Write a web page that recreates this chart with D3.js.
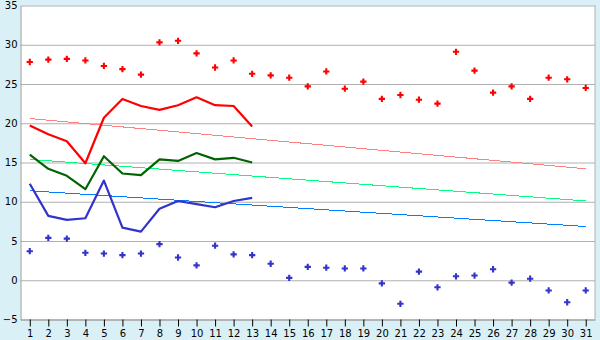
<!DOCTYPE html>
<html>
<head>
<meta charset="utf-8">
<script src="https://cdn.jsdelivr.net/npm/d3@7"></script>
<style>
body { margin: 0; background: #daf0f7; }
svg { display: block; }
.axis text { font-family: "DejaVu Sans", sans-serif; font-size: 10px; fill: #000; }
</style>
</head>
<body>
<svg id="chart"></svg>
<script>
let days = d3.range(1, 32);
let yTicks = [-5, 0, 5, 10, 15, 20, 25, 30, 35];

// daily points
let maxPoints = [27.8, 28.1, 28.2, 28.0, 27.3, 26.9, 26.2, 30.3, 30.5, 28.9,
                 27.1, 28.0, 26.3, 26.1, 25.8, 24.7, 26.6, 24.4, 25.3, 23.1,
                 23.6, 23.0, 22.5, 29.1, 26.7, 23.9, 24.7, 23.1, 25.8, 25.6, 24.5];
let minPoints = [3.7, 5.4, 5.3, 3.5, 3.4, 3.2, 3.4, 4.6, 2.9, 1.9,
                 4.4, 3.3, 3.2, 2.1, 0.3, 1.7, 1.6, 1.5, 1.5, -0.4,
                 -3.0, 1.1, -0.9, 0.5, 0.6, 1.4, -0.3, 0.2, -1.3, -2.8, -1.3];

// lines for days 1..13
let maxLine = [19.7, 18.6, 17.7, 14.9, 20.7, 23.1, 22.2, 21.7, 22.3, 23.3, 22.3, 22.2, 19.6];
let meanLine = [16.0, 14.2, 13.3, 11.6, 15.8, 13.6, 13.4, 15.4, 15.2, 16.2, 15.4, 15.6, 15.0];
let minLine = [12.3, 8.2, 7.7, 7.9, 12.7, 6.7, 6.2, 9.1, 10.1, 9.7, 9.3, 10.1, 10.5];

// trend lines from day 1 to day 31
let maxTrend = [20.6, 14.2];
let meanTrend = [15.4, 10.1];
let minTrend = [11.4, 6.85];

let width = 600;
let height = 340;
let plotLeft = 20.5;
let plotRight = 595;
let plotTop = 5.5;
let plotBottom = 319.5;

let svg = d3.select("#chart").attr("width", width).attr("height", height);

let x = d3.scaleLinear().domain([0.5, 31.5]).range([plotLeft, plotRight]);
let y = d3.scaleLinear().domain([-5, 35]).range([plotBottom, plotTop]);

svg.append("rect")
    .attr("x", plotLeft).attr("y", plotTop)
    .attr("width", plotRight - plotLeft).attr("height", plotBottom - plotTop)
    .attr("fill", "#fff");

// grid
svg.append("g")
    .attr("transform", "translate(" + plotLeft + ",0)")
    .call(d3.axisLeft(y).tickValues(yTicks).tickSize(-(plotRight - plotLeft)).tickFormat(""))
    .call(g => g.select(".domain").remove())
    .call(g => g.selectAll("line").attr("stroke", "#b0b0b0"));

// right border
svg.append("line")
    .attr("x1", plotRight).attr("x2", plotRight).attr("y1", plotTop).attr("y2", plotBottom)
    .attr("stroke", "#b0b0b0");

// y axis
svg.append("g")
    .attr("class", "axis")
    .attr("transform", "translate(" + plotLeft + ",0)")
    .call(d3.axisLeft(y).tickValues(yTicks).tickSize(0).tickPadding(3).tickFormat(d => d < 0 ? "\u2212" + (-d) : d))
    .call(g => g.select(".domain").attr("stroke", "#999"));

// x axis
svg.append("g")
    .attr("class", "axis")
    .attr("transform", "translate(0," + plotBottom + ")")
    .call(d3.axisBottom(x).tickValues(days).tickSize(7).tickPadding(3).tickSizeOuter(0))
    .call(g => g.select(".domain").attr("stroke", "#999"))
    .call(g => g.selectAll(".tick line").attr("stroke", "#000"));

let line = d3.line().x((d, i) => x(i + 1)).y(d => y(d));
let trend = d3.line().x((d, i) => x(i === 0 ? 1 : 31)).y(d => y(d));

let trends = [[maxTrend, "#ff8080"], [meanTrend, "#00ff80"], [minTrend, "#0080ff"]];
trends.forEach(t => {
    svg.append("path")
        .attr("d", trend(t[0]))
        .attr("fill", "none")
        .attr("stroke", t[1])
        .attr("stroke-width", 1)
        .attr("shape-rendering", "crispEdges");
});

let lines = [[maxLine, "#ff0000"], [meanLine, "#006400"], [minLine, "#3333cc"]];
lines.forEach(l => {
    svg.append("path")
        .attr("d", line(l[0]))
        .attr("fill", "none")
        .attr("stroke", l[1])
        .attr("stroke-width", 2.2)
        .attr("stroke-linejoin", "round");
});

let cross = d3.symbol().type(d3.symbolCross).size(22);

svg.selectAll(".maxp")
    .data(maxPoints)
    .enter()
    .append("path")
    .attr("class", "maxp")
    .attr("d", cross)
    .attr("fill", "#ff0000")
    .attr("transform", (d, i) => "translate(" + x(i + 1) + "," + y(d) + ")");

svg.selectAll(".minp")
    .data(minPoints)
    .enter()
    .append("path")
    .attr("class", "minp")
    .attr("d", cross)
    .attr("fill", "#3333cc")
    .attr("transform", (d, i) => "translate(" + x(i + 1) + "," + y(d) + ")");
</script>
</body>
</html>
